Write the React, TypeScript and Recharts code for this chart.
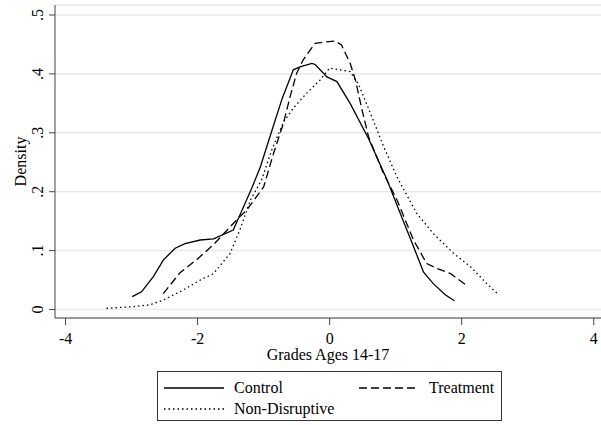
import React from "react";
import { CartesianGrid, Legend, Line, LineChart, XAxis, YAxis } from "recharts";

const FONT = "'Liberation Serif', 'Times New Roman', serif";

const xTicks = [-4, -2, 0, 2, 4];
const yTicks = [0, 0.1, 0.2, 0.3, 0.4, 0.5];

const controlGrade = [
  -2.99, -2.85, -2.67, -2.52, -2.34, -2.19, -1.96, -1.76, -1.46, -1.18, -1.05,
  -0.9, -0.72, -0.55, -0.45, -0.27, -0.22, -0.04, 0.11, 0.31, 0.59, 0.87, 1.07,
  1.27, 1.42, 1.57, 1.75, 1.89,
];
const controlDensity = [
  0.022, 0.03, 0.056, 0.084, 0.104, 0.112, 0.118, 0.12, 0.135, 0.206, 0.242,
  0.295, 0.358, 0.407, 0.412, 0.418, 0.416, 0.395, 0.387, 0.35, 0.29, 0.22,
  0.163, 0.107, 0.064, 0.044, 0.025, 0.015,
];

const treatmentGrade = [
  -2.52, -2.27, -2.01, -1.76, -1.46, -1.25, -1.0, -0.85, -0.7, -0.6, -0.5, -0.4,
  -0.22, 0.08, 0.18, 0.31, 0.39, 0.49, 0.59, 0.8, 1.02, 1.27, 1.47, 1.62, 1.83,
  2.05,
];
const treatmentDensity = [
  0.027, 0.062, 0.085, 0.11, 0.146, 0.17, 0.208, 0.265, 0.316, 0.361, 0.401,
  0.424, 0.452, 0.456, 0.449, 0.418, 0.39, 0.339, 0.293, 0.235, 0.186, 0.118,
  0.078, 0.07, 0.061, 0.043,
];

const nonDisruptiveGrade = [
  -3.38, -2.97, -2.72, -2.52, -2.22, -1.96, -1.76, -1.51, -1.36, -1.2, -1.03,
  -0.88, -0.7, -0.55, -0.35, -0.14, 0.0, 0.31, 0.44, 0.64, 0.82, 1.02, 1.32,
  1.57, 1.88, 2.13, 2.38, 2.56,
];
const nonDisruptiveDensity = [
  0.002, 0.005, 0.008, 0.016, 0.033, 0.05, 0.061, 0.095, 0.135, 0.186, 0.22,
  0.27, 0.318, 0.342, 0.367, 0.39, 0.41, 0.404, 0.382, 0.327, 0.276, 0.225,
  0.163, 0.129, 0.095, 0.073, 0.044, 0.025,
];

const toPoints = (xs: number[], ys: number[]) =>
  xs.map((grade, i) => ({ grade, density: ys[i] }));

const controlData = toPoints(controlGrade, controlDensity);
const treatmentData = toPoints(treatmentGrade, treatmentDensity);
const nonDisruptiveData = toPoints(nonDisruptiveGrade, nonDisruptiveDensity);

const DASH = "8 4";
const DOT = "1.5 3";

const fmtY = (v: number) => (v === 0 ? "0" : String(v).replace(/^0/, ""));

const YTick = (props: any) => {
  const { x, y, payload } = props;
  return (
    <text
      x={x}
      y={y}
      transform={`rotate(-90, ${x}, ${y})`}
      textAnchor="middle"
      fontFamily={FONT}
      fontSize={16}
      fill="#000"
    >
      {fmtY(payload.value)}
    </text>
  );
};

const LegendSample = ({ dash }: { dash?: string }) => (
  <svg width={60} height={4} style={{ display: "block" }}>
    <line x1={0} y1={2} x2={60} y2={2} stroke="#000" strokeWidth={1.3} strokeDasharray={dash} />
  </svg>
);

const LegendBox = () => (
  <div
    style={{
      marginLeft: 157,
      width: 345,
      height: 50,
      boxSizing: "border-box",
      border: "1px solid #333",
      position: "relative",
      fontFamily: FONT,
      fontSize: 16,
      color: "#000",
    }}
  >
    <div style={{ position: "absolute", left: 6, top: 14 }}>
      <LegendSample />
    </div>
    <div style={{ position: "absolute", left: 76, top: 6, lineHeight: "20px" }}>Control</div>
    <div style={{ position: "absolute", left: 201, top: 14 }}>
      <LegendSample dash={DASH} />
    </div>
    <div style={{ position: "absolute", left: 271, top: 6, lineHeight: "20px" }}>Treatment</div>
    <div style={{ position: "absolute", left: 6, top: 35 }}>
      <LegendSample dash={DOT} />
    </div>
    <div style={{ position: "absolute", left: 76, top: 27, lineHeight: "20px" }}>Non-Disruptive</div>
  </div>
);

export default function App() {
  return (
    <div style={{ position: "absolute", left: 0, top: 0 }}>
      <LineChart
        width={601}
        height={425}
        margin={{ top: 5, right: 0, left: 0, bottom: 4 }}
        style={{ fontFamily: FONT }}
      >
        <CartesianGrid vertical={false} stroke="#e9e9e9" strokeWidth={1.5} />
        <XAxis
          type="number"
          dataKey="grade"
          domain={[-4.16, 4.11]}
          ticks={xTicks}
          allowDataOverflow
          height={53}
          tickSize={7}
          tickMargin={8}
          stroke="#444"
          tick={{ fill: "#000", fontSize: 16, fontFamily: FONT }}
          label={{
            value: "Grades Ages 14-17",
            position: "insideBottom",
            offset: 11,
            fill: "#000",
            fontSize: 16,
            fontFamily: FONT,
          }}
        />
        <YAxis
          type="number"
          dataKey="density"
          domain={[-0.0144, 0.517]}
          ticks={yTicks}
          allowDataOverflow
          width={55}
          tickSize={6}
          tickMargin={6}
          stroke="#444"
          tick={<YTick />}
          label={{
            content: () => (
              <text
                x={26}
                y={161.5}
                transform="rotate(-90, 26, 161.5)"
                textAnchor="middle"
                fontFamily={FONT}
                fontSize={16}
                fill="#000"
              >
                Density
              </text>
            ),
          }}
        />
        <Line
          data={controlData}
          dataKey="density"
          name="Control"
          type="linear"
          stroke="#000"
          strokeWidth={1.3}
          dot={false}
          isAnimationActive={false}
        />
        <Line
          data={treatmentData}
          dataKey="density"
          name="Treatment"
          type="linear"
          stroke="#000"
          strokeWidth={1.3}
          strokeDasharray={DASH}
          dot={false}
          isAnimationActive={false}
        />
        <Line
          data={nonDisruptiveData}
          dataKey="density"
          name="Non-Disruptive"
          type="linear"
          stroke="#000"
          strokeWidth={1.3}
          strokeDasharray={DOT}
          dot={false}
          isAnimationActive={false}
        />
        <Legend verticalAlign="bottom" content={() => <LegendBox />} />
      </LineChart>
    </div>
  );
}
